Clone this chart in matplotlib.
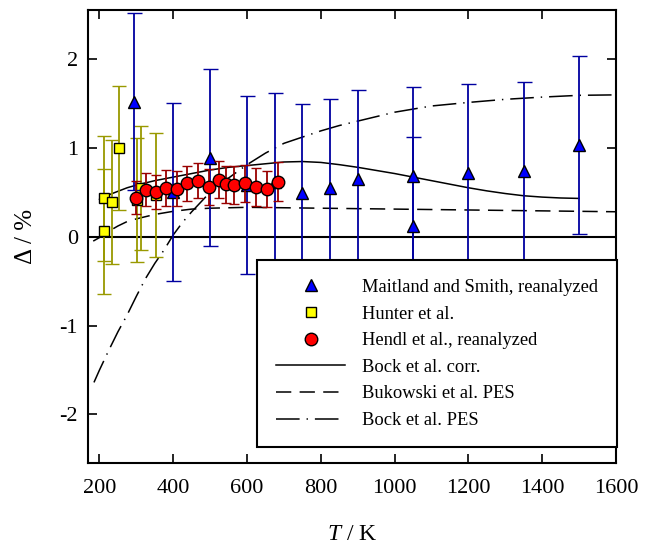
import matplotlib
matplotlib.use('Agg')
from matplotlib import pyplot as plt
from matplotlib.lines import Line2D
import numpy as np

plt.rcParams['font.family'] = ['Liberation Serif', 'DejaVu Serif']
plt.rcParams['mathtext.fontset'] = 'custom'
plt.rcParams['mathtext.rm'] = 'Liberation Serif'
plt.rcParams['mathtext.it'] = 'Liberation Serif:italic'
plt.rcParams['lines.scale_dashes'] = False
plt.rcParams['axes.unicode_minus'] = False

# Maitland and Smith, reanalyzed
ms_T = [293, 400, 500, 600, 677, 750, 825, 900, 1050, 1050, 1200, 1350, 1500]
ms_d = [1.52, 0.50, 0.89, 0.58, 0.62, 0.49, 0.55, 0.65, 0.68, 0.12, 0.72, 0.74, 1.03]
ms_err = [1.0, 1.0, 1.0, 1.0, 1.0, 1.0, 1.0, 1.0, 1.0, 1.0, 1.0, 1.0, 1.0]

# Hunter et al.
hu_T = [213, 213, 234, 253, 303, 312, 354]
hu_d = [0.43, 0.06, 0.39, 1.00, 0.41, 0.55, 0.47]
hu_err = [0.70, 0.70, 0.70, 0.70, 0.70, 0.70, 0.70]

# Hendl et al., reanalyzed
he_T = [298, 325, 353, 381, 409, 438, 467, 496, 524, 544, 565, 595, 625, 654, 683]
he_d = [0.44, 0.53, 0.50, 0.55, 0.54, 0.60, 0.63, 0.56, 0.64, 0.59, 0.58, 0.60, 0.56, 0.535, 0.62]
he_err = [0.19, 0.19, 0.19, 0.2, 0.2, 0.2, 0.2, 0.2, 0.21, 0.21, 0.21, 0.21, 0.21, 0.2, 0.22]

# Bock et al. corr.
bc_T = [200, 225, 250, 275, 300, 350, 400, 450, 500, 550, 600, 650, 700, 750, 800,
        850, 900, 950, 1000, 1050, 1100, 1150, 1200, 1250, 1300, 1350, 1400, 1450, 1500]
bc_d = [0.42, 0.47, 0.51, 0.55, 0.58, 0.63, 0.67, 0.71, 0.75, 0.78, 0.80, 0.82, 0.84, 0.845, 0.835,
        0.81, 0.78, 0.745, 0.71, 0.67, 0.63, 0.59, 0.55, 0.515, 0.485, 0.46, 0.445, 0.435, 0.43]

# Bukowski et al. PES
bu_T = [183, 200, 225, 250, 275, 300, 350, 400, 450, 500, 600, 700, 800, 900, 1000,
        1100, 1200, 1300, 1400, 1500, 1600]
bu_d = [-0.05, -0.01, 0.06, 0.12, 0.17, 0.20, 0.25, 0.285, 0.31, 0.32, 0.33, 0.325, 0.32, 0.315, 0.31,
        0.305, 0.30, 0.295, 0.29, 0.285, 0.28]

# Bock et al. PES
bp_T = [185, 200, 225, 250, 275, 300, 325, 350, 375, 400, 425, 450, 475, 500, 550, 600, 650,
        700, 750, 800, 850, 900, 950, 1000, 1100, 1200, 1300, 1400, 1500, 1600]
bp_d = [-1.64, -1.50, -1.28, -1.07, -0.88, -0.67, -0.47, -0.30, -0.15, 0.02, 0.16, 0.28, 0.39, 0.50,
        0.66, 0.81, 0.94, 1.05, 1.12, 1.19, 1.25, 1.30, 1.35, 1.40, 1.47, 1.51, 1.545, 1.57, 1.59, 1.595]

fig = plt.figure(figsize=(6.51, 5.49), dpi=100)
ax = fig.add_axes([0.1347, 0.1561, 0.8115, 0.8257])

dash_ls = (0, (11, 6))
dashdot_ls = (0, (17, 5, 1, 5))

ax.axhline(0, color='k', lw=1.5, zorder=1)
ax.plot(bc_T, bc_d, color='k', lw=1.1, zorder=2)
ax.plot(bu_T, bu_d, color='k', lw=1.1, ls=dash_ls, zorder=2)
ax.plot(bp_T, bp_d, color='k', lw=1.1, ls=dashdot_ls, zorder=2)

ax.errorbar(hu_T, hu_d, yerr=hu_err, fmt='s', ms=7.5, mfc='#ffff00', mec='k', mew=1.0,
            ecolor='#999900', elinewidth=1.3, capsize=4.7, capthick=1.3, zorder=3)
ax.errorbar(ms_T, ms_d, yerr=ms_err, fmt='^', ms=9, mfc='#0000ff', mec='k', mew=1.0,
            ecolor='#0000a0', elinewidth=1.3, capsize=5.4, capthick=1.3, zorder=4)
ax.errorbar(he_T, he_d, yerr=he_err, fmt='o', ms=9, mfc='#ff0000', mec='k', mew=1.0,
            ecolor='#990000', elinewidth=1.3, capsize=3.8, capthick=1.3, zorder=5)

ax.set_xlim(168, 1600)
ax.set_ylim(-2.55, 2.55)
ax.set_xticks([200, 400, 600, 800, 1000, 1200, 1400, 1600])
ax.set_yticks([-2, -1, 0, 1, 2])
ax.tick_params(direction='in', top=True, right=True, length=6.5, width=1.2,
               labelsize=16, pad=7)
ax.tick_params(axis='x', pad=11)
for s in ax.spines.values():
    s.set_linewidth(1.5)

ax.set_xlabel('$T$ / K', fontsize=17, labelpad=19)
ax.set_ylabel('Δ / %', fontsize=18, labelpad=16)

handles = [
    Line2D([], [], ls='none', marker='^', ms=9, mfc='#0000ff', mec='k', mew=1.0),
    Line2D([], [], ls='none', marker='s', ms=7.5, mfc='#ffff00', mec='k', mew=1.0),
    Line2D([], [], ls='none', marker='o', ms=9, mfc='#ff0000', mec='k', mew=1.0),
    Line2D([], [], color='k', lw=1.1),
    Line2D([], [], color='k', lw=1.1, ls=dash_ls),
    Line2D([], [], color='k', lw=1.1, ls=dashdot_ls),
]
labels = ['Maitland and Smith, reanalyzed', 'Hunter et al.', 'Hendl et al., reanalyzed',
          'Bock et al. corr.', 'Bukowski et al. PES', 'Bock et al. PES']
leg = ax.legend(handles, labels, loc='upper left', bbox_to_anchor=(0.3214, 0.4474),
                fontsize=13.3, frameon=True, fancybox=False, framealpha=1, edgecolor='k',
                borderpad=1.0, labelspacing=0.52, handlelength=3.75, handletextpad=0.92,
                borderaxespad=0)
leg.get_frame().set_linewidth(1.5)
leg.set_zorder(10)

fig.savefig('out.png', dpi=100)
